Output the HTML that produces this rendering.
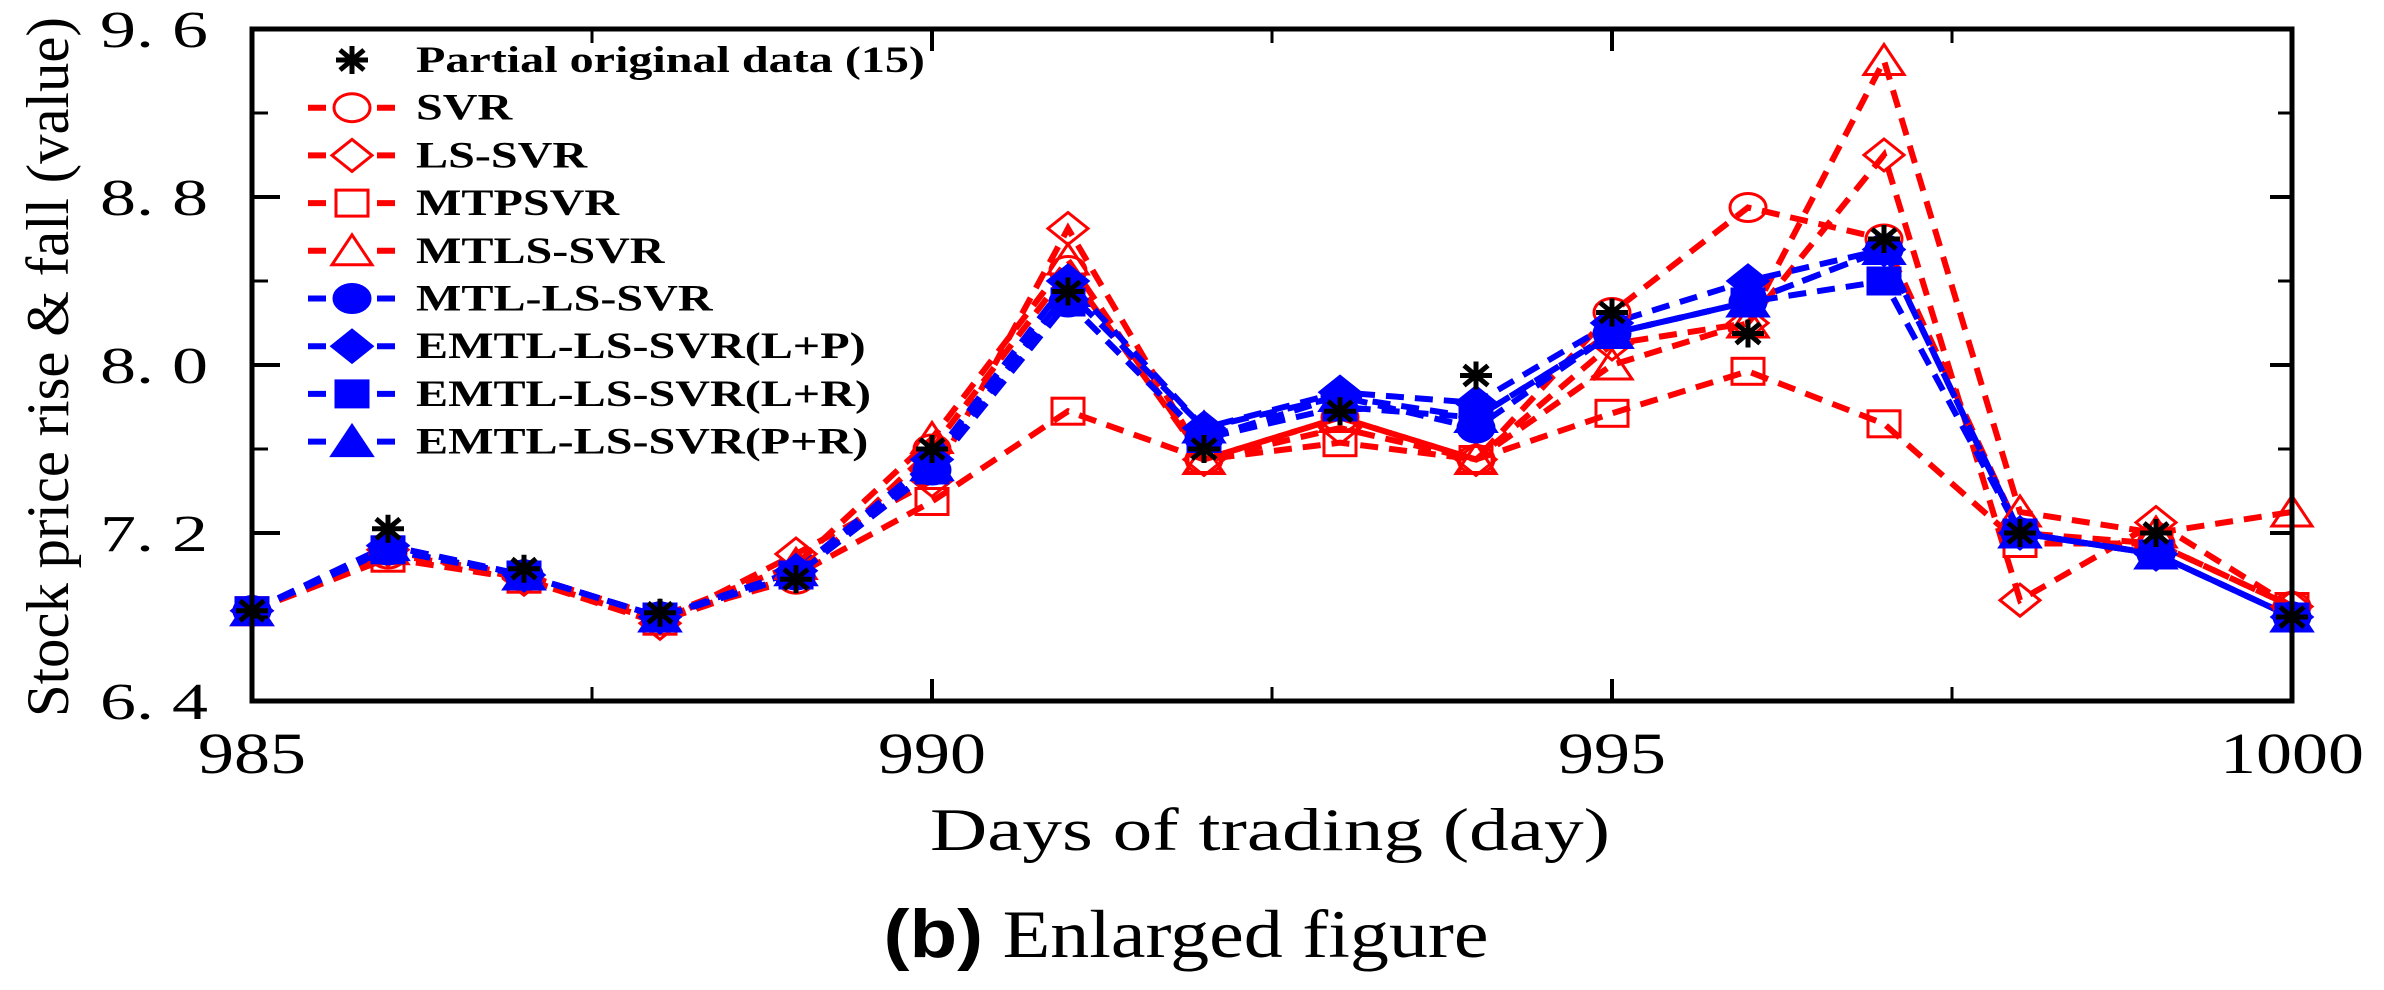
<!DOCTYPE html>
<html><head><meta charset="utf-8"><style>
html,body{margin:0;padding:0;background:#fff;}
svg{display:block;}
text{font-family:"Liberation Serif",serif;}
</style></head><body>
<svg id="chart" width="2384" height="990" viewBox="0 0 2384 990" xmlns="http://www.w3.org/2000/svg">
<g id="plot"></g>
<g id="axes"></g>
<g id="legend"></g>
<text x="1270" y="850" font-size="60" text-anchor="middle" textLength="680" lengthAdjust="spacingAndGlyphs">Days of trading (day)</text>
<text transform="translate(68,367) rotate(-90)" font-size="60" text-anchor="middle" textLength="700" lengthAdjust="spacingAndGlyphs">Stock price rise &amp; fall (value)</text>
<text x="1186" y="957" font-size="68" text-anchor="middle" textLength="605" lengthAdjust="spacingAndGlyphs"><tspan font-weight="bold" font-family="Liberation Sans, sans-serif">(b)</tspan> Enlarged figure</text>
</svg>
<script>
const days = [985,986,987,988,989,990,991,992,993,994,995,996,997,998,999,1000];
const original = [6.83,7.22,7.03,6.82,6.98,7.6,8.35,7.6,7.78,7.95,8.25,8.15,8.6,7.2,7.2,6.8];
const svr = [6.83,7.1,7.0,6.8,6.98,7.6,8.45,7.55,7.75,7.55,8.25,8.75,8.6,7.2,7.15,6.85];
const lssvr = [6.83,7.12,6.98,6.77,7.1,7.45,8.65,7.55,7.7,7.55,8.1,8.2,9.0,6.88,7.25,6.85];
const mtpsvr = [6.83,7.08,6.98,6.78,7.0,7.35,7.78,7.55,7.63,7.55,7.77,7.97,7.72,7.15,7.15,6.85];
const mtlssvr = [6.83,7.12,7.0,6.8,7.05,7.65,8.5,7.55,7.75,7.55,8.0,8.2,9.45,7.3,7.2,7.3];
const mtllssvr = [6.83,7.12,7.0,6.8,7.0,7.5,8.3,7.65,7.85,7.7,8.15,8.3,8.55,7.2,7.1,6.8];
const emtlLP = [6.83,7.14,7.0,6.8,7.02,7.55,8.4,7.7,7.87,7.82,8.2,8.4,8.55,7.2,7.1,6.8];
const emtlLR = [6.83,7.12,7.0,6.8,7.0,7.5,8.3,7.65,7.8,7.75,8.15,8.3,8.4,7.2,7.1,6.8];
const emtlPR = [6.83,7.14,7.0,6.8,7.02,7.52,8.35,7.7,7.85,7.75,8.15,8.3,8.55,7.2,7.1,6.8];
const xTicks = [985,990,995,1000];
const xMinor = [987.5,992.5,997.5];
const yTicks = [6.4,7.2,8.0,8.8,9.6];
const yTickLabels = ["6. 4","7. 2","8. 0","8. 8","9. 6"];
const yMinor = [6.8,7.6,8.4,9.2];
const legendLabels = ["Partial original data (15)","SVR","LS-SVR","MTPSVR","MTLS-SVR","MTL-LS-SVR","EMTL-LS-SVR(L+P)","EMTL-LS-SVR(L+R)","EMTL-LS-SVR(P+R)"];

const L=252,R=2292,T=29,B=701;
const x = d => L + (d-985)/(1000-985)*(R-L);
const y = v => T + (9.6-v)/(9.6-6.4)*(B-T);
const NS="http://www.w3.org/2000/svg";
function mk(tag, attrs, parent){const e=document.createElementNS(NS,tag);for(const k in attrs)e.setAttribute(k,attrs[k]);parent.appendChild(e);return e;}

function marker(g, type, cx, cy, color){
  const rx=20, ry=14; let e;
  const fill = type.endsWith('F') ? color : 'none';
  const t = type.replace('F','');
  if(t==='circle') e=mk('ellipse',{cx:cx,cy:cy,rx:rx-2,ry:ry,fill:fill,stroke:color,'stroke-width':3},g);
  else if(t==='diamond') e=mk('polygon',{points:`${cx},${cy-ry-2} ${cx+rx},${cy} ${cx},${cy+ry+2} ${cx-rx},${cy}`,fill:fill,stroke:color,'stroke-width':3},g);
  else if(t==='square') e=mk('rect',{x:cx-16,y:cy-13,width:32,height:26,fill:fill,stroke:color,'stroke-width':3},g);
  else if(t==='triangle') e=mk('polygon',{points:`${cx},${cy-ry-2} ${cx+rx},${cy+ry} ${cx-rx},${cy+ry}`,fill:fill,stroke:color,'stroke-width':3},g);
  else if(t==='star'){
    e=mk('path',{d:`M${cx-16},${cy}H${cx+16}M${cx},${cy-14}V${cy+14}M${cx-12},${cy-10}L${cx+12},${cy+10}M${cx-12},${cy+10}L${cx+12},${cy-10}`,stroke:'#000','stroke-width':5,fill:'none'},g);
  }
  
  
  return e;
}

const series = [
  {name:'svr', data:svr, color:'#ff0000', m:'circle'},
  {name:'ls-svr', data:lssvr, color:'#ff0000', m:'diamond'},
  {name:'mtpsvr', data:mtpsvr, color:'#ff0000', m:'square'},
  {name:'mtls-svr', data:mtlssvr, color:'#ff0000', m:'triangle'},
  {name:'mtl-ls-svr', data:mtllssvr, color:'#0000ff', m:'circleF'},
  {name:'emtl-lp', data:emtlLP, color:'#0000ff', m:'diamondF'},
  {name:'emtl-lr', data:emtlLR, color:'#0000ff', m:'squareF'},
  {name:'emtl-pr', data:emtlPR, color:'#0000ff', m:'triangleF'}
];
const plot=document.getElementById('plot');
series.forEach(s=>{
  const g=mk('g',{},plot);
  
  
  const pts=s.data.map((v,i)=>x(days[i])+','+y(v)).join(' ');
  const pl=mk('polyline',{points:pts,fill:'none',stroke:s.color,'stroke-width':6,'stroke-dasharray':'18 11'},g);
  
  
});
series.forEach(s=>{
  const g=mk('g',{},plot);
  
  
  s.data.forEach((v,i)=>marker(g,s.m,x(days[i]),y(v),s.color));
});
const og=mk('g',{},plot);


original.forEach((v,i)=>marker(og,'star',x(days[i]),y(v),'#000'));

// axes
const ax=document.getElementById('axes');
const frame=mk('rect',{x:L,y:T,width:R-L,height:B-T,fill:'none',stroke:'#000','stroke-width':5},ax);


xTicks.forEach(d=>{
  mk('line',{x1:x(d),x2:x(d),y1:B,y2:B-22,stroke:'#000','stroke-width':4},ax);
  mk('line',{x1:x(d),x2:x(d),y1:T,y2:T+22,stroke:'#000','stroke-width':4},ax);
  const t=mk('text',{x:x(d),y:773,'font-size':58,'text-anchor':'middle',textLength:String(d).length*36,lengthAdjust:'spacingAndGlyphs'},ax);
  t.textContent=d;
  
  
});
xMinor.forEach(d=>{
  mk('line',{x1:x(d),x2:x(d),y1:B,y2:B-14,stroke:'#000','stroke-width':3},ax);
  mk('line',{x1:x(d),x2:x(d),y1:T,y2:T+14,stroke:'#000','stroke-width':3},ax);
});
yTicks.forEach((v,i)=>{
  mk('line',{x1:L,x2:L+28,y1:y(v),y2:y(v),stroke:'#000','stroke-width':4},ax);
  mk('line',{x1:R,x2:R-22,y1:y(v),y2:y(v),stroke:'#000','stroke-width':4},ax);
  const t=mk('text',{x:208,y:y(v)+18,'font-size':52,'text-anchor':'end',textLength:108,lengthAdjust:'spacingAndGlyphs'},ax);
  t.textContent=yTickLabels[i];
  
  
});
yMinor.forEach(v=>{
  mk('line',{x1:L,x2:L+16,y1:y(v),y2:y(v),stroke:'#000','stroke-width':3},ax);
  mk('line',{x1:R,x2:R-14,y1:y(v),y2:y(v),stroke:'#000','stroke-width':3},ax);
});

// legend
const lg=document.getElementById('legend');
const lmarks=['star'].concat(series.map(s=>s.m));
const lcolors=['#000'].concat(series.map(s=>s.color));
legendLabels.forEach((lab,i)=>{
  const g=mk('g',{},lg);
  
  
  const cy=60+i*47.7;
  if(i>0){
    mk('line',{x1:308,x2:326,y1:cy,y2:cy,stroke:lcolors[i],'stroke-width':6},g);
    mk('line',{x1:377,x2:395,y1:cy,y2:cy,stroke:lcolors[i],'stroke-width':6},g);
  }
  marker(g,lmarks[i],352,cy,lcolors[i]);
  const t=mk('text',{transform:`translate(416,${cy+12}) scale(1.3,1)`,'font-size':37,'font-weight':'bold'},g);
  t.textContent=lab;
});
</script>
</body></html>
